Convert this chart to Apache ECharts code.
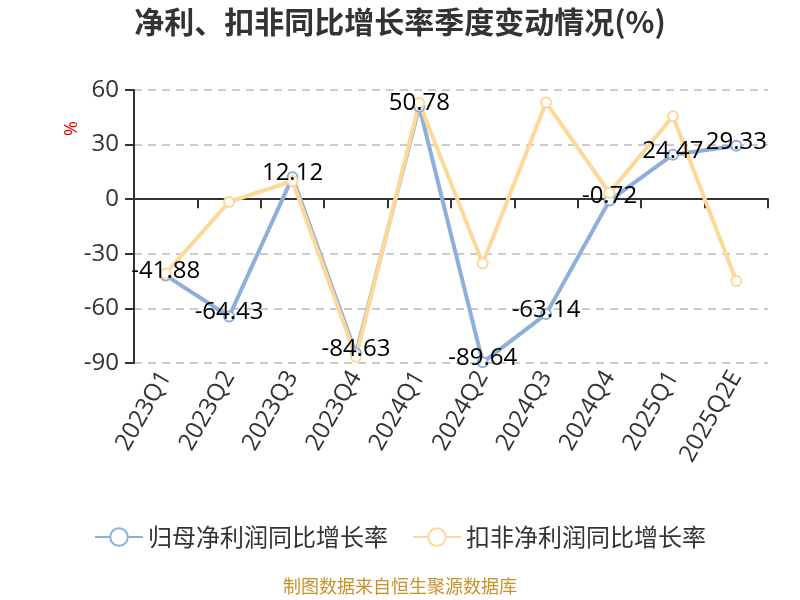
<!DOCTYPE html>
<html><head><meta charset="utf-8">
<script src="https://cdn.jsdelivr.net/npm/echarts@6/dist/echarts.min.js"></script>
<style>html,body{margin:0;padding:0;background:#fff}#c{width:800px;height:600px}</style>
</head><body><div id="c"></div>
<script>
var categories = ['2023Q1','2023Q2','2023Q3','2023Q4','2024Q1','2024Q2','2024Q3','2024Q4','2025Q1','2025Q2E'];
var netProfitYoY = [-41.88, -64.43, 12.12, -84.63, 50.78, -89.64, -63.14, -0.72, 24.47, 29.33];
var deductedYoY = [-40.8, -1.5, 10.0, -86.6, 52.9, -35.3, 53.1, 3.5, 45.6, -44.9];
var yTicks = {min: -90, max: 60, interval: 30};

var font = '"Open Sans", "Noto Sans CJK SC", sans-serif';
var cjk = '"Noto Sans CJK SC", sans-serif';
var chart = echarts.init(document.getElementById('c'));
chart.setOption({
  backgroundColor: '#fff',
  animation: false,
  textStyle: {fontFamily: font},
  title: {
    text: '净利、扣非同比增长率季度变动情况(%)',
    left: 'center', top: 2,
    textStyle: {fontSize: 30, fontWeight: 'bold', color: '#333', fontFamily: cjk}
  },
  graphic: [{
    type: 'text', left: 63, top: 121, rotation: Math.PI / 2,
    style: {text: '%', fill: '#e00', fontSize: 18, fontFamily: font}
  }, {
    type: 'text', left: 'center', top: 577,
    style: {text: '制图数据来自恒生聚源数据库', fill: '#c8922a', fontSize: 18, fontFamily: cjk}
  }],
  legend: {
    bottom: 46, left: 'center',
    itemWidth: 48, itemHeight: 22, itemGap: 24,
    textStyle: {fontSize: 24, color: '#333', fontFamily: cjk},
    data: ['归母净利润同比增长率', '扣非净利润同比增长率']
  },
  grid: {left: 134, right: 32, top: 90, bottom: 237, containLabel: false},
  xAxis: {
    type: 'category', data: categories, boundaryGap: true,
    axisLine: {onZero: true, lineStyle: {color: '#333', width: 2}},
    axisTick: {show: true, length: 9, lineStyle: {color: '#333', width: 2}},
    axisLabel: {rotate: 60, fontSize: 24, color: '#333', margin: 10, interval: 0, fontFamily: font}
  },
  yAxis: {
    type: 'value', min: yTicks.min, max: yTicks.max, interval: yTicks.interval,
    axisLine: {show: true, lineStyle: {color: '#333', width: 2}},
    axisTick: {show: true, length: 9, lineStyle: {color: '#333', width: 2}},
    axisLabel: {fontSize: 24, color: '#333', margin: 15, fontFamily: font},
    splitLine: {show: true, lineStyle: {color: '#ccc', type: [8, 6], width: 2}}
  },
  series: [{
    name: '归母净利润同比增长率', type: 'line', data: netProfitYoY,
    symbol: 'emptyCircle', symbolSize: 10,
    lineStyle: {color: '#8eaedc', width: 4},
    itemStyle: {color: '#8eaedc', borderWidth: 2},
    label: {show: true, position: 'inside', offset: [0, -4], fontSize: 24, color: '#000', fontFamily: font}
  }, {
    name: '扣非净利润同比增长率', type: 'line', data: deductedYoY,
    symbol: 'emptyCircle', symbolSize: 10,
    lineStyle: {color: '#fdd897', width: 4},
    itemStyle: {color: '#fdd897', borderWidth: 2},
    label: {show: false}
  }]
});
</script></body></html>
